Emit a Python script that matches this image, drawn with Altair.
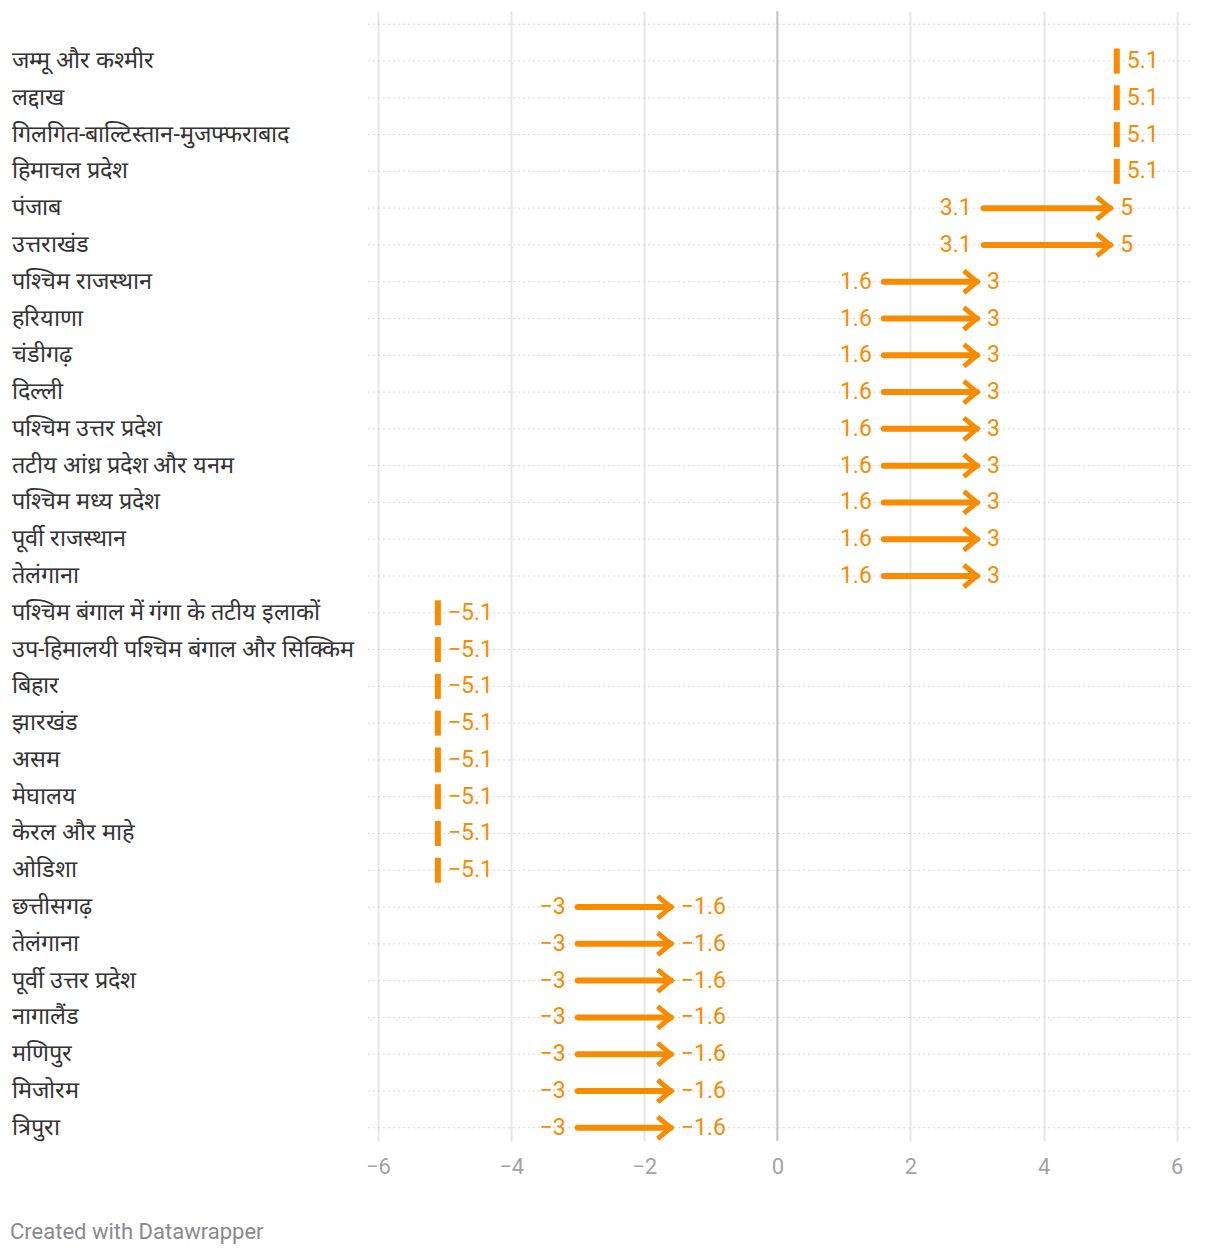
import altair as alt
import pandas as pd

regions = [
    "जम्मू और कश्मीर", "लद्दाख", "गिलगित-बाल्टिस्तान-मुजफ्फराबाद", "हिमाचल प्रदेश",
    "पंजाब", "उत्तराखंड",
    "पश्चिम राजस्थान", "हरियाणा", "चंडीगढ़", "दिल्ली", "पश्चिम उत्तर प्रदेश",
    "तटीय आंध्र प्रदेश और यनम", "पश्चिम मध्य प्रदेश", "पूर्वी राजस्थान", "तेलंगाना",
    "पश्चिम बंगाल में गंगा के तटीय इलाकों", "उप-हिमालयी पश्चिम बंगाल और सिक्किम", "बिहार",
    "झारखंड", "असम", "मेघालय", "केरल और माहे", "ओडिशा",
    "छत्तीसगढ़", "तेलंगाना", "पूर्वी उत्तर प्रदेश", "नागालैंड", "मणिपुर", "मिजोरम", "त्रिपुरा",
]
start_values = [5.1, 5.1, 5.1, 5.1,
                3.1, 3.1,
                1.6, 1.6, 1.6, 1.6, 1.6, 1.6, 1.6, 1.6, 1.6,
                -5.1, -5.1, -5.1, -5.1, -5.1, -5.1, -5.1, -5.1,
                -3, -3, -3, -3, -3, -3, -3]
end_values = [5.1, 5.1, 5.1, 5.1,
              5, 5,
              3, 3, 3, 3, 3, 3, 3, 3, 3,
              -5.1, -5.1, -5.1, -5.1, -5.1, -5.1, -5.1, -5.1,
              -1.6, -1.6, -1.6, -1.6, -1.6, -1.6, -1.6]
x_ticks = [-6, -4, -2, 0, 2, 4, 6]
footer = ["Created with Datawrapper"]

ORANGE = "#f88b00"
FONT = "Roboto"


def fmt(v):
    return f"{v:g}".replace("-", "\u2212")


df = pd.DataFrame({
    "row": list(range(len(regions))),
    "region": regions,
    "start": start_values,
    "end": end_values,
})
df["start_label"] = [fmt(v) for v in df["start"]]
df["end_label"] = [fmt(v) for v in df["end"]]
df["kind"] = ["arrow" if s != e else "dot" for s, e in zip(df["start"], df["end"])]

arrows = df[df["kind"] == "arrow"]
dots = df[df["kind"] == "dot"]
grid_rows = pd.DataFrame({"row": list(range(-1, len(regions)))})
zero_df = pd.DataFrame({"x": [0]})
footer_df = pd.DataFrame({"t": footer})

W, H = 822, 1130

xscale = alt.Scale(domain=[-6.15, 6.2], nice=False, zero=False)
xaxis = alt.Axis(values=x_ticks, grid=True, gridColor="#e6e6e6", gridWidth=2,
                 domain=False, ticks=False, labelFontSize=22, labelColor="#a3a3a3",
                 labelFont=FONT, labelPadding=15, title=None)
yscale = alt.Scale(domain=[-1.36, len(regions) - 1 + 0.36], reverse=True, nice=False, zero=False)


def X(field):
    return alt.X(f"{field}:Q", scale=xscale, axis=xaxis, title=None)


def Y():
    return alt.Y("row:Q", scale=yscale, axis=None)


hgrid = alt.Chart(grid_rows).mark_rule(color="#d6d6d6", strokeDash=[2, 3], strokeWidth=1).encode(
    y=Y(), x=alt.value(0), x2=alt.value(W)
)

zero = alt.Chart(zero_df).mark_rule(color="#c6c6c6", strokeWidth=2).encode(x=X("x"))

lines = alt.Chart(arrows).mark_rule(color=ORANGE, strokeWidth=6, strokeCap="round").encode(
    x=X("start"), x2="end:Q", y=Y()
)

heads = alt.Chart(arrows).mark_point(
    shape="M-1.2,-1L0,0L-1.2,1", filled=False, stroke=ORANGE, strokeWidth=5,
    size=484, opacity=1
).encode(x=X("end"), y=Y())

ticks = alt.Chart(dots).mark_tick(
    orient="vertical", size=25, thickness=6, color=ORANGE, opacity=1
).encode(x=X("start"), y=Y())

start_text = alt.Chart(arrows).mark_text(
    align="right", baseline="middle", dx=-12, fontSize=23, font=FONT, color=ORANGE
).encode(x=X("start"), y=Y(), text="start_label:N")

end_text = alt.Chart(df).mark_text(
    align="left", baseline="middle", dx=10, fontSize=23, font=FONT, color=ORANGE
).encode(x=X("end"), y=Y(), text="end_label:N")

region_text = alt.Chart(df).mark_text(
    align="left", baseline="middle", fontSize=23.5, font=FONT, color="#333333"
).encode(x=alt.value(-356), y=Y(), text="region:N")

footer_text = alt.Chart(footer_df).mark_text(
    align="left", baseline="middle", fontSize=22, font=FONT, color="#8a8a8a"
).encode(x=alt.value(-358), y=alt.value(1221), text="t:N")

chart = alt.layer(
    hgrid, zero, lines, heads, ticks, start_text, end_text, region_text, footer_text
).properties(
    width=W, height=H,
    padding={"left": 2, "top": 2, "right": 5, "bottom": 5},
).configure_view(stroke=None)

chart.save("out.html", embed_options={"renderer": "svg", "actions": False})
